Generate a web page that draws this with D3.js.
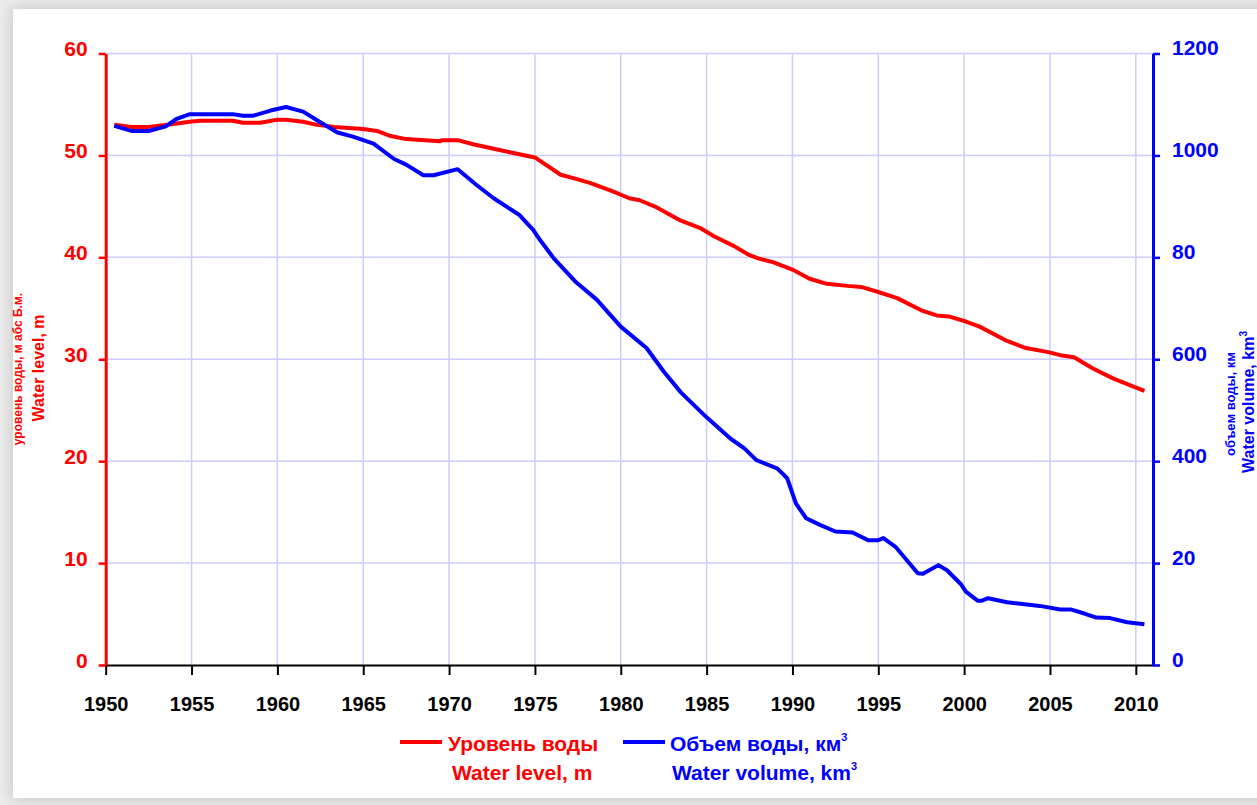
<!DOCTYPE html>
<html>
<head>
<meta charset="utf-8">
<script src="https://cdn.jsdelivr.net/npm/d3@7"></script>
<style>
  html, body { margin: 0; padding: 0; background: #ebebeb; overflow: hidden; }
  #card { position: absolute; left: 13px; top: 9px; width: 1260px; height: 789px;
          background: #fff; box-shadow: 0 0 14px rgba(0,0,0,0.18); }
  svg { position: absolute; left: 0; top: 0; font-family: "Liberation Sans", Arial, sans-serif; }
</style>
</head>
<body>
<div id="card"></div>
<script>
// water level, m (abs. Baltic)
const levelYears = [1950.5, 1951.5, 1952.5, 1953.6, 1954.9, 1955.5, 1957.4, 1958.0, 1959.0, 1960.0,
  1960.5, 1961.5, 1962.3, 1963.3, 1965.0, 1965.8, 1966.6, 1967.5, 1969.5, 1969.55,
  1970.5, 1971.4, 1973.0, 1975.0, 1976.5, 1977.4, 1978.2, 1979.5, 1980.5, 1981.1,
  1982.1, 1983.5, 1984.6, 1985.4, 1986.6, 1987.4, 1988.0, 1988.9, 1990.0, 1991.0,
  1992.0, 1993.2, 1994.0, 1995.0, 1996.1, 1997.5, 1998.4, 1999.1, 2000.1, 2000.9,
  2002.5, 2003.6, 2004.9, 2005.6, 2006.4, 2007.5, 2008.7, 2009.9, 2010.5];
const levelValues = [53.0, 52.8, 52.8, 53.0, 53.3, 53.4, 53.4, 53.2, 53.2, 53.5,
  53.5, 53.3, 53.0, 52.8, 52.6, 52.4, 51.9, 51.6, 51.4, 51.5,
  51.5, 51.1, 50.5, 49.8, 48.1, 47.7, 47.3, 46.5, 45.8, 45.6,
  44.9, 43.6, 42.9, 42.1, 41.1, 40.3, 39.9, 39.5, 38.8, 37.9,
  37.4, 37.2, 37.1, 36.6, 36.0, 34.8, 34.3, 34.2, 33.7, 33.2,
  31.8, 31.1, 30.7, 30.4, 30.2, 29.1, 28.1, 27.3, 26.9];

// water volume, km3
const volumeYears = [1950.5, 1951.5, 1952.5, 1953.5, 1954.1, 1954.9, 1957.4, 1958.0, 1958.6, 1959.6,
  1960.5, 1961.5, 1962.5, 1963.5, 1964.4, 1965.6, 1966.8, 1967.5, 1968.5, 1969.1,
  1970.5, 1971.6, 1972.6, 1974.1, 1974.9, 1975.3, 1976.1, 1977.4, 1978.6, 1980.0,
  1981.5, 1982.5, 1983.5, 1985.0, 1986.4, 1987.2, 1987.9, 1989.1, 1989.5, 1989.7,
  1990.2, 1990.8, 1991.6, 1992.5, 1993.5, 1994.4, 1995.0, 1995.3, 1996.0, 1997.3,
  1997.6, 1998.5, 1999.0, 1999.8, 2000.1, 2000.8, 2001.0, 2001.4, 2002.5, 2004.4,
  2005.6, 2006.2, 2007.0, 2007.7, 2008.5, 2009.5, 2010.5];
const volumeValues = [1058, 1048, 1048, 1057, 1071, 1081, 1081, 1078, 1078, 1088,
  1095, 1086, 1065, 1045, 1037, 1023, 993, 982, 961, 961,
  973, 942, 916, 883, 854, 834, 798, 751, 717, 664,
  622, 576, 535, 486, 444, 425, 402, 386, 373, 366,
  317, 288, 275, 262, 260, 245, 245, 249, 232, 180,
  179, 196, 186, 159, 144, 126, 126, 131, 123, 116,
  109, 109, 101, 93, 92, 84, 80];

const yearTicks = [1950, 1955, 1960, 1965, 1970, 1975, 1980, 1985, 1990, 1995, 2000, 2005, 2010];
const levelTicks = [0, 10, 20, 30, 40, 50, 60];
const volumeTicks = [0, 200, 400, 600, 800, 1000, 1200];
const volumeTickLabels = ["0", "20", "400", "600", "80", "1000", "1200"];

const width = 1257;
const height = 805;
const plotLeft = 105.7, plotRight = 1153, plotTop = 53.5, plotBottom = 665;

const svg = d3.select("body").append("svg")
  .attr("width", width)
  .attr("height", height);

const x = d3.scaleLinear().domain([1950, 2011]).range([plotLeft, plotRight]);
const yLevel = d3.scaleLinear().domain([0, 60]).range([plotBottom, plotTop]);
const yVolume = d3.scaleLinear().domain([0, 1200]).range([plotBottom, plotTop]);

// grid
svg.append("g").selectAll("line")
  .data(yearTicks.slice(1))
  .enter().append("line")
    .attr("x1", d => x(d)).attr("x2", d => x(d))
    .attr("y1", plotTop).attr("y2", plotBottom)
    .attr("stroke", "#ccccff").attr("stroke-width", 1.5);
svg.append("g").selectAll("line")
  .data(levelTicks.slice(1))
  .enter().append("line")
    .attr("x1", plotLeft).attr("x2", plotRight)
    .attr("y1", d => yLevel(d)).attr("y2", d => yLevel(d))
    .attr("stroke", "#ccccff").attr("stroke-width", 1.5);

// x axis
const xAxis = svg.append("g")
  .attr("transform", `translate(0,${plotBottom})`)
  .call(d3.axisBottom(x).tickValues(yearTicks).tickFormat(d3.format("d")).tickSize(10).tickSizeOuter(0));
xAxis.select(".domain").attr("stroke", "#000").attr("stroke-width", 2);
xAxis.selectAll(".tick line").attr("stroke", "#000").attr("stroke-width", 2);
xAxis.selectAll(".tick text")
  .attr("y", 46).attr("dy", 0)
  .attr("fill", "#000").style("font-size", "20px").style("font-weight", "bold");

// left axis
const yAxisL = svg.append("g")
  .attr("transform", `translate(${plotLeft},0)`)
  .call(d3.axisLeft(yLevel).tickValues(levelTicks).tickSize(7).tickSizeOuter(0));
yAxisL.select(".domain").attr("stroke", "#ff0000").attr("stroke-width", 3);
yAxisL.selectAll(".tick line").attr("stroke", "#ff0000").attr("stroke-width", 2.5);
yAxisL.selectAll(".tick text")
  .attr("x", -18).attr("y", 2).attr("dy", 0)
  .attr("fill", "#ff0000").style("font-size", "21px").style("font-weight", "bold");

// right axis
const yAxisR = svg.append("g")
  .attr("transform", `translate(${plotRight},0)`)
  .call(d3.axisRight(yVolume).tickValues(volumeTicks)
    .tickFormat((d, i) => volumeTickLabels[i]).tickSize(7).tickSizeOuter(0));
yAxisR.select(".domain").attr("stroke", "#0000ff").attr("stroke-width", 3);
yAxisR.selectAll(".tick line").attr("stroke", "#0000ff").attr("stroke-width", 2.5);
yAxisR.selectAll(".tick text")
  .attr("x", 19).attr("y", 1).attr("dy", 0)
  .attr("fill", "#0000ff").style("font-size", "21px").style("font-weight", "bold");

// lines
const levelLine = d3.line()
  .x((d, i) => x(levelYears[i]))
  .y(d => yLevel(d));
const volumeLine = d3.line()
  .x((d, i) => x(volumeYears[i]))
  .y(d => yVolume(d));

svg.append("path")
  .datum(levelValues)
  .attr("d", levelLine)
  .attr("fill", "none").attr("stroke", "#ff0000").attr("stroke-width", 4)
  .attr("stroke-linejoin", "round");
svg.append("path")
  .datum(volumeValues)
  .attr("d", volumeLine)
  .attr("fill", "none").attr("stroke", "#0000ff").attr("stroke-width", 4)
  .attr("stroke-linejoin", "round");

// axis titles
svg.append("text")
  .attr("transform", "translate(22,369) rotate(-90)")
  .attr("text-anchor", "middle")
  .attr("fill", "#ff0000").style("font-size", "12px").style("font-weight", "bold")
  .text("уровень воды, м абс Б.м.");
svg.append("text")
  .attr("transform", "translate(44,368) rotate(-90)")
  .attr("text-anchor", "middle")
  .attr("fill", "#ff0000").style("font-size", "16px").style("font-weight", "bold")
  .text("Water level, m");

svg.append("text")
  .attr("transform", "translate(1235,404) rotate(-90)")
  .attr("text-anchor", "middle")
  .attr("fill", "#0000ff").style("font-size", "13px").style("font-weight", "bold")
  .text("объем воды, км");
const volTitle = svg.append("text")
  .attr("transform", "translate(1254,402) rotate(-90)")
  .attr("text-anchor", "middle")
  .attr("fill", "#0000ff").style("font-size", "16px").style("font-weight", "bold");
volTitle.append("tspan").text("Water volume, km");
volTitle.append("tspan").attr("dy", -7).style("font-size", "10px").text("3");

// legend
const legend = svg.append("g").style("font-weight", "bold").style("font-size", "21px");
legend.append("line")
  .attr("x1", 400).attr("x2", 442).attr("y1", 742).attr("y2", 742)
  .attr("stroke", "#ff0000").attr("stroke-width", 4);
legend.append("text").attr("x", 448).attr("y", 751).attr("fill", "#ff0000").text("Уровень воды");
legend.append("text").attr("x", 452).attr("y", 780).attr("fill", "#ff0000").text("Water level, m");

legend.append("line")
  .attr("x1", 623).attr("x2", 665).attr("y1", 742).attr("y2", 742)
  .attr("stroke", "#0000ff").attr("stroke-width", 4);
const l1 = legend.append("text").attr("x", 670).attr("y", 751).attr("fill", "#0000ff");
l1.append("tspan").text("Объем воды, км");
l1.append("tspan").attr("dy", -10).style("font-size", "11px").text("3");
const l2 = legend.append("text").attr("x", 672).attr("y", 780).attr("fill", "#0000ff");
l2.append("tspan").text("Water volume, km");
l2.append("tspan").attr("dy", -10).style("font-size", "11px").text("3");
</script>
</body>
</html>
